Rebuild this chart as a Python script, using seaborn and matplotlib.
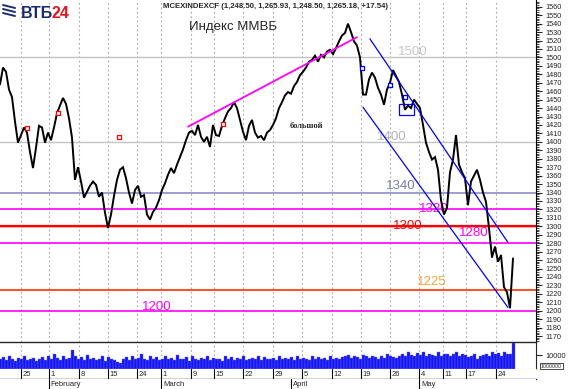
import matplotlib
matplotlib.use("Agg")
import matplotlib.pyplot as plt
from matplotlib.lines import Line2D
from matplotlib.patches import Rectangle
import numpy as np
import pandas as pd
import seaborn as sns

# hourly close, one sample per step (MICEX index, late Jan - late May)
close = [1468, 1488, 1483, 1462, 1453, 1424, 1399, 1408, 1417, 1411, 1388, 1369, 1393, 1419,
         1417, 1399, 1411, 1402, 1417, 1434, 1443, 1452, 1445, 1428, 1405, 1355, 1370, 1353,
         1334, 1341, 1348, 1353, 1349, 1335, 1340, 1316, 1298, 1314, 1336, 1355, 1367, 1370,
         1357, 1340, 1327, 1343, 1348, 1335, 1337, 1314, 1308, 1317, 1322, 1331, 1343, 1351,
         1361, 1369, 1363, 1373, 1382, 1391, 1402, 1411, 1413, 1408, 1420, 1406, 1400, 1406,
         1394, 1420, 1408, 1407, 1419, 1428, 1436, 1440, 1447, 1440, 1426, 1412, 1402, 1419,
         1426, 1411, 1405, 1407, 1402, 1411, 1414, 1420, 1428, 1440, 1447, 1455, 1459, 1457,
         1466, 1471, 1479, 1483, 1488, 1495, 1497, 1502, 1495, 1503, 1500, 1507, 1509, 1504,
         1511, 1519, 1526, 1529, 1540, 1530, 1519, 1514, 1500, 1456, 1456, 1474, 1482, 1476,
         1464, 1456, 1444, 1462, 1470, 1485, 1478, 1471, 1456, 1438, 1443, 1440, 1450, 1445,
         1440, 1420, 1399, 1388, 1379, 1382, 1367, 1331, 1314, 1322, 1364, 1379, 1408, 1373,
         1364, 1357, 1325, 1353, 1360, 1367, 1355, 1340, 1329, 1298, 1263, 1276, 1258, 1266,
         1228, 1222, 1203, 1262]

volume = [7000, 8500, 6500, 9000, 7500, 6000, 8000, 7000, 9500, 6500, 7500, 8000, 6000, 7000,
          8500, 6500, 9000, 7500, 10500, 8000, 6500, 9500, 7000, 8000, 13500, 9000, 7500, 8500,
          6500, 10000, 7000, 8000, 6500, 7500, 9000, 6000, 8500, 7000, 6500, 5000, 4000, 7500,
          8500, 6500, 9000, 7000, 8000, 11000, 7500, 6500, 9000, 7000, 8500, 6500, 7500, 9500,
          7000, 8000, 6500, 10000, 7500, 7000, 8500, 6000, 9000, 7500, 6500, 8000, 7000, 9500,
          6500, 8000, 7500, 7000, 6000, 9000, 7500, 8500, 6500, 8000, 7000, 9500, 6500, 7500,
          8000, 7000, 9000, 6500, 8500, 7500, 7000, 8000, 6500, 9500, 7000, 8000, 7500, 8500,
          6500, 9000, 7000, 8000, 7500, 6500, 9000, 7500, 8500, 7000, 8000, 6500, 9500, 7500,
          8000, 7000, 8500, 9000, 10000, 8000, 9500, 8500, 7500, 10000, 9000, 8000, 9500, 8500,
          7500, 9000, 8000, 10500, 9000, 8500, 8000, 9500, 11000, 9000, 12000, 10000, 9500, 11500,
          10000, 12500, 9500, 11000, 10000, 9000, 12000, 9500, 10500, 11000, 9000, 10500, 12000, 9500,
          11000, 10000, 8500, 9500, 10500, 7500, 9000, 10000, 11000, 9500, 12000, 10500, 11500, 9000,
          12500, 11000, 10500, 18500]

# date ticks (position in samples) and labels
tick_pos = [6.9, 16.3, 26.3, 36.0, 45.7, 53.7, 63.7, 71.3, 81.0, 91.0, 100.7, 110.7,
            120.3, 130.0, 139.7, 147.7, 155.3, 165.3]
tick_lab = ["25", "1", "8", "15", "24", "1", "9", "15", "22", "29", "5", "12",
            "19", "26", "4", "11", "17", "24"]
month_pos = [16.3, 53.7, 97.0, 139.7]
month_lab = ["February", "March", "April", "May"]

# support / resistance levels
levels = [1500, 1400, 1340, 1320, 1300, 1280, 1225, 1200]
level_col = ["#c4c4c4", "#c4c4c4", "#8c8cc8", "#ff00ff", "#ff0000", "#ff00ff", "#ff3300", "#ff00ff"]
level_lw = [1.0, 1.0, 1.2, 1.2, 1.6, 1.2, 1.2, 1.2]
lab_text = ["1500", "1400", "1340", "1320", "1300", "1280", "1225", "1200"]
lab_x = [137.5, 130.7, 133.7, 144.5, 135.8, 158.0, 144.0, 52.4]
lab_y = [1507, 1406, 1348, 1320, 1300, 1292, 1234, 1205]
lab_col = ["#c8c8c8", "#b4b4b4", "#7c7cb0", "#ff00ff", "#ff0000", "#ff00ff", "#ffa040", "#ff00ff"]

# trend lines
trend_x = [62.7, 119.0]
trend_y = [1418, 1524]
chan_up_x = [123.3, 169.3]
chan_up_y = [1522, 1281]
chan_lo_x = [121.0, 169.3]
chan_lo_y = [1441, 1204]

red_mx = [9.0, 19.3, 39.7, 74.3]
red_my = [1417, 1434, 1406, 1421]
blue_mx = [120.7, 130.0, 135.0]
blue_my = [1488, 1467, 1453]

df = pd.DataFrame({"i": np.arange(len(close)), "close": close, "volume": volume})

sns.set_style("white")
plt.rcParams["font.family"] = ["Liberation Sans", "DejaVu Sans"]

W, H = 568, 389
fig = plt.figure(figsize=(W / 100, H / 100), dpi=100)
XR = 536
xmax = XR / 3.0

def box(top, bottom, right=XR):
    return [0, 1 - bottom / H, right / W, (bottom - top) / H]

ax = fig.add_axes(box(0, 342))
axv = fig.add_axes(box(342, 369))
axd = fig.add_axes(box(369, 379))
axm = fig.add_axes(box(379, 389))

# ---- price panel
for p in tick_pos:
    ax.axvline(p, color="#a8a8a8", lw=0.8, ls=(0, (1.5, 2.5)), zorder=0)
for lv, c, lw in zip(levels, level_col, level_lw):
    if lv == 1300:
        ax.axhline(lv - 1.2, color="#ffb0b0", lw=1.2, zorder=1)
    ax.axhline(lv, color=c, lw=lw, zorder=1)
for t, x, y, c in zip(lab_text, lab_x, lab_y, lab_col):
    ax.text(x, y, t, color=c, fontsize=9.5, ha="center", va="center", zorder=2)

sns.lineplot(data=df, x="i", y="close", ax=ax, color="black", lw=1.4, zorder=4)
ax.lines[-1].set_solid_joinstyle("miter")
ax.plot(trend_x, trend_y, color="#ff00ff", lw=1.3, zorder=5)
ax.plot(chan_up_x, chan_up_y, color="#0000ff", lw=0.9, zorder=5)
ax.plot(chan_lo_x, chan_lo_y, color="#0000ff", lw=0.9, zorder=5)
ax.scatter(red_mx, red_my, marker="s", s=10, facecolor="white", edgecolor="red", lw=0.9, zorder=6)
ax.scatter(blue_mx, blue_my, marker="s", s=10, facecolor="white", edgecolor="blue", lw=0.9, zorder=6)
ax.add_patch(Rectangle((133.0, 1432), 5.0, 13, fill=False, ec="#0000ff", lw=0.9, zorder=6))

ax.text(77.7, 1536, "Индекс ММВБ", fontsize=9.5, ha="center", va="center")
ax.text(102.0, 1419, "большой", fontsize=6, fontweight="bold",
        family=["Liberation Serif", "DejaVu Serif"], ha="center", va="center")
ax.text(54.3, 1560, "MCEXINDEXCF (1,248.50, 1,265.93, 1,248.50, 1,265.18, +17.54)",
        fontsize=5.6, ha="left", va="center", fontweight="bold")

ax.set_xlim(0, xmax)
ax.set_ylim(1163, 1568)
ax.yaxis.tick_right()
ax.set_yticks(range(1170, 1561, 10))
ax.set_yticks(range(1164, 1568, 2), minor=True)
ax.tick_params(axis="y", which="major", length=4, width=0.8, labelsize=5.3, pad=3, right=True, left=False)
ax.tick_params(axis="y", which="minor", length=2, width=0.6, right=True, left=False)
ax.set_xticks([])
ax.set_xlabel("")
ax.set_ylabel("")
for s in ["top", "left", "bottom"]:
    ax.spines[s].set_visible(False)
ax.spines["right"].set_color("black")
ax.spines["right"].set_linewidth(0.8)

# ---- volume panel
for p in tick_pos:
    axv.axvline(p, color="#a8a8a8", lw=0.8, ls=(0, (1.5, 2.5)), zorder=0)
axv.bar(df["i"], df["volume"], width=1.0, color="#1414f0", edgecolor="#6a6aff", lw=0.3, zorder=2)
axv.set_xlim(0, xmax)
axv.set_ylim(0, 19300)
axv.yaxis.tick_right()
axv.set_yticks([10000])
axv.set_yticklabels(["10000"])
axv.tick_params(axis="y", length=4, width=0.8, labelsize=5.3, pad=3, right=True, left=False)
axv.set_xticks([])
axv.spines["left"].set_visible(False)
axv.spines["top"].set_linewidth(1.0)
axv.spines["bottom"].set_color("#d8c040")
axv.spines["right"].set_linewidth(0.8)
fig.text(541 / W, 1 - 366 / H, "1000000", fontsize=3.8, va="center", ha="left",
         bbox=dict(boxstyle="square,pad=0.15", fc="white", ec="black", lw=0.5))

# ---- date strip
axd.set_xlim(0, xmax)
axd.set_ylim(0, 1)
for p, t in zip(tick_pos, tick_lab):
    axd.axvline(p, color="black", lw=0.8)
    axd.text(p + 0.6, 0.45, t, fontsize=5.5, ha="left", va="center")
axd.set_xticks([])
axd.set_yticks([])
for s in ["top", "left", "right"]:
    axd.spines[s].set_visible(False)
axd.spines["bottom"].set_linewidth(1.0)

axm.set_xlim(0, xmax)
axm.set_ylim(0, 1)
for p, t in zip(month_pos, month_lab):
    axm.axvline(p, color="black", lw=0.8)
    axm.text(p + 0.6, 0.4, t, fontsize=5.5, ha="left", va="center")
axm.set_xticks([])
axm.set_yticks([])
for s in axm.spines.values():
    s.set_visible(False)

# ---- logo
fig.text(21 / W, 1 - 13 / H, "ВТБ", fontsize=11.5, fontweight="bold", color="#1b2b6e",
         va="center", ha="left")
fig.text(51.5 / W, 1 - 13 / H, "24", fontsize=11.5, fontweight="bold", color="#e3141b",
         va="center", ha="left")
for dy in (5, 9, 13):
    fig.add_artist(Line2D([3 / W, 15 / W], [1 - dy / H, 1 - (dy + 3) / H],
                          color="#1b2b6e", lw=1.4))

fig.savefig("out.png", dpi=100)
